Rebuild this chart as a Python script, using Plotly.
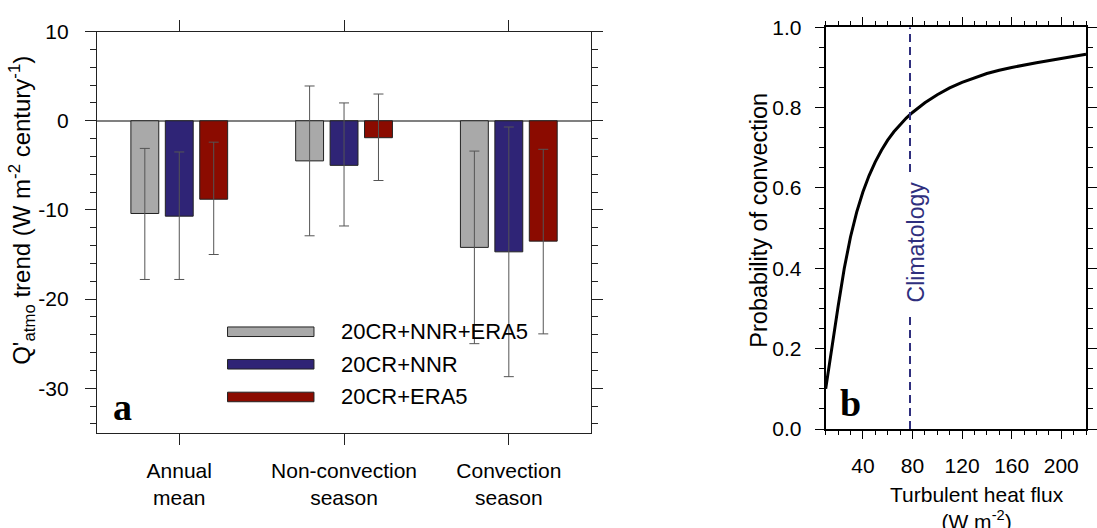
import plotly.graph_objects as go

# ---------------- data: panel a ----------------
categories = ["Annual<br>mean", "Non-convection<br>season", "Convection<br>season"]
series_names = ["20CR+NNR+ERA5", "20CR+NNR", "20CR+ERA5"]
series_colors = ["#a9a9a9", "#2f2476", "#8b0b00"]
ytick_vals = [10, 0, -10, -20, -30]
ytick_text = ["10", "0", "-10", "-20", "-30"]

vals_all = [-10.4, -4.5, -14.2]
vals_nnr = [-10.7, -5.0, -14.7]
vals_era5 = [-8.8, -1.9, -13.5]

low_all = [-17.8, -12.9, -25.0]
high_all = [-3.1, 3.9, -3.4]
low_nnr = [-17.8, -11.8, -28.7]
high_nnr = [-3.5, 2.0, -0.7]
low_era5 = [-15.0, -6.7, -23.9]
high_era5 = [-2.4, 3.0, -3.2]

# ---------------- data: panel b ----------------
flux = [10, 15, 20, 25, 30, 35, 40, 45, 50, 55, 60, 65, 70, 75, 80, 90, 100, 110, 120,
        140, 150, 160, 180, 200, 220]
prob = [0.100, 0.205, 0.305, 0.400, 0.478, 0.540, 0.590, 0.631, 0.665, 0.694, 0.719, 0.740,
        0.758, 0.774, 0.788, 0.812, 0.832, 0.849, 0.863, 0.885, 0.893, 0.900, 0.912, 0.923, 0.933]
climatology_flux = 78
clim_line_y = [0.0, 0.29, None, 0.64, 1.0]

FONT = "Liberation Sans"
W, H = 1097, 528

fig = go.Figure()

vals = [vals_all, vals_nnr, vals_era5]
lows = [low_all, low_nnr, low_era5]
highs = [high_all, high_nnr, high_era5]
xidx = list(range(len(categories)))
for name, col, v, lo, hi in zip(series_names, series_colors, vals, lows, highs):
    fig.add_trace(go.Bar(
        x=xidx, y=v, name=name, marker=dict(color=col, line=dict(color="#222222", width=1)),
        error_y=dict(type="data", symmetric=False,
                     array=[h - a for h, a in zip(hi, v)],
                     arrayminus=[a - l for a, l in zip(v, lo)],
                     color="#555555", thickness=1, width=5),
        xaxis="x", yaxis="y", showlegend=False,
    ))

fig.add_trace(go.Scatter(x=flux, y=prob, mode="lines", line=dict(color="black", width=3),
                         xaxis="x2", yaxis="y2", showlegend=False))
fig.add_trace(go.Scatter(x=[climatology_flux] * len(clim_line_y), y=clim_line_y, mode="lines",
                         line=dict(color="#2f2f7e", width=2, dash="8px,5px"),
                         xaxis="x2", yaxis="y2", showlegend=False, connectgaps=False))

# domains (paper coords, margins zero)
lx0, lx1 = 97.5 / W, 595 / W
rx0, rx1 = 831 / W, 1093 / W
ly0, ly1 = 1 - 440 / H, 1 - 20.5 / H
ry0, ry1 = 1 - 436 / H, 1 - 16 / H

tickfont = dict(family=FONT, size=21, color="black")

fig.update_layout(
    width=W, height=H,
    margin=dict(l=0, r=0, t=0, b=0),
    paper_bgcolor="white", plot_bgcolor="white",
    barmode="group", bargap=0.373, bargroupgap=0.19,
    font=dict(family=FONT, size=21, color="black"),
    xaxis=dict(domain=[lx0, lx1], range=[-0.5, 2.5], tickvals=xidx, ticktext=categories,
               ticks="outside", ticklen=11, tickcolor="#222", showline=True, linecolor="#222",
               linewidth=1, mirror="ticks", showgrid=False, zeroline=False, tickfont=tickfont,
               ticklabelstandoff=8, anchor="y"),
    yaxis=dict(domain=[ly0, ly1], range=[-35, 10], tickvals=ytick_vals, ticktext=ytick_text,
               ticks="outside", ticklen=11, tickcolor="#222", showline=True, linecolor="#222",
               linewidth=1, mirror="ticks", showgrid=False, zeroline=True,
               zerolinecolor="#808080", zerolinewidth=1.5, tickfont=tickfont,
               ticklabelstandoff=12,
               minor=dict(dtick=2, ticks="outside", ticklen=6, tickcolor="#222", showgrid=False),
               anchor="x"),
    xaxis2=dict(domain=[rx0, rx1], range=[10, 220], tickvals=[40, 80, 120, 160, 200],
                ticks="outside", ticklen=8, tickcolor="black", showline=True, linecolor="black",
                linewidth=2, mirror="ticks", showgrid=False, zeroline=False, tickfont=tickfont,
                ticklabelstandoff=9,
                minor=dict(dtick=10, tick0=0, ticks="outside", ticklen=4, tickcolor="black", showgrid=False),
                anchor="y2"),
    yaxis2=dict(domain=[ry0, ry1], range=[0, 1], dtick=0.2, tickformat=".1f",
                ticks="outside", ticklen=9, tickcolor="black", showline=True, linecolor="black",
                linewidth=2, mirror="ticks", showgrid=False, zeroline=False, tickfont=tickfont,
                ticklabelstandoff=9,
                minor=dict(dtick=0.05, ticks="outside", ticklen=5, tickcolor="black", showgrid=False),
                anchor="x2"),
)

annotations = [
    dict(text="Q'<sub>atmo</sub> trend (W m<sup>-2</sup> century<sup>-1</sup>)", xref="paper", yref="paper",
         x=22 / W, y=1 - 207 / H, textangle=-90, showarrow=False, font=dict(family=FONT, size=24),
         xanchor="center", yanchor="middle"),
    dict(text="Probability of convection", xref="paper", yref="paper",
         x=763 / W, y=1 - 218 / H, textangle=-90, showarrow=False, font=dict(family=FONT, size=23.5),
         xanchor="center", yanchor="middle"),
    dict(text="Turbulent heat flux<br>(W m<sup>-2</sup>)", xref="paper", yref="paper",
         x=983 / W, y=1 - 490 / H, showarrow=False, font=dict(family=FONT, size=21),
         xanchor="center", yanchor="top"),
    dict(text="<b>a</b>", xref="paper", yref="paper", x=112 / W, y=1 - 413 / H, showarrow=False,
         font=dict(family="Liberation Serif", size=38), xanchor="left", yanchor="middle"),
    dict(text="<b>b</b>", xref="paper", yref="paper", x=843 / W, y=1 - 409 / H, showarrow=False,
         font=dict(family="Liberation Serif", size=38), xanchor="left", yanchor="middle"),
    dict(text="Climatology", x=climatology_flux, y=0.467, xref="x2", yref="y2", textangle=-90,
         showarrow=False, font=dict(family=FONT, size=23, color="#2f2f7e"), xshift=6,
         xanchor="center", yanchor="middle"),
]

# manual legend (wide rectangles like the original)
shapes = []
leg_rows = [334.3, 368.3, 402.5]
for name, col, yc in zip(series_names, series_colors, leg_rows):
    shapes.append(dict(type="rect", xref="paper", yref="paper",
                       x0=229 / W, x1=316 / W, y0=1 - (yc + 5) / H, y1=1 - (yc - 5) / H,
                       fillcolor=col, line=dict(color="#222", width=1)))
    annotations.append(dict(text=name, xref="paper", yref="paper", x=341 / W, y=1 - yc / H,
                            showarrow=False, xanchor="left", yanchor="middle",
                            font=dict(family=FONT, size=22)))

fig.update_layout(annotations=annotations, shapes=shapes)

fig.write_html("out.html")
